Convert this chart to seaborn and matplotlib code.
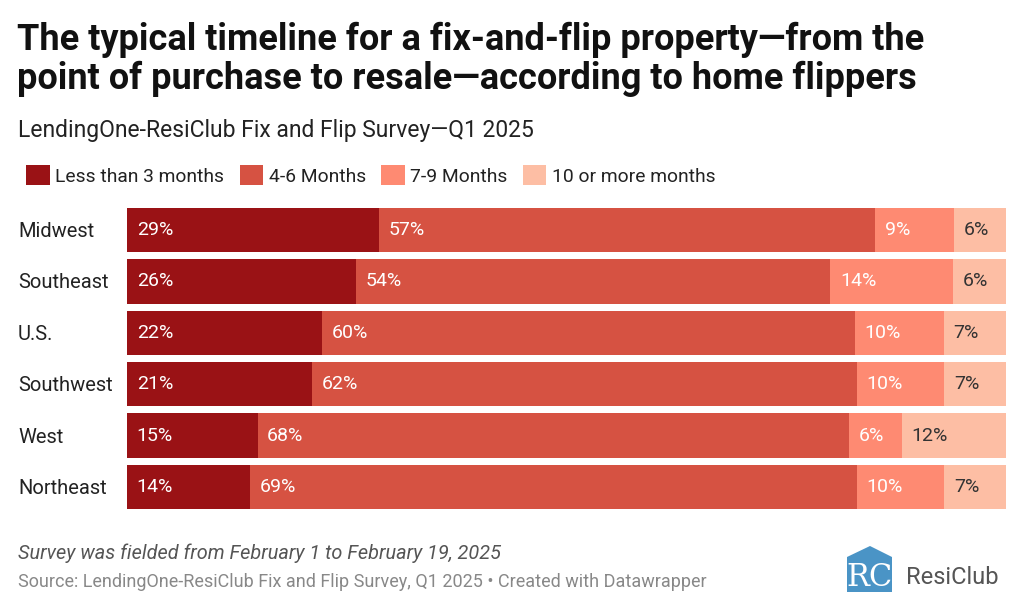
import numpy as np
import pandas as pd
import seaborn as sns
import matplotlib.pyplot as plt
from matplotlib.patches import Patch, Polygon
from matplotlib.transforms import blended_transform_factory

# Dados
regioes = ["Midwest", "Southeast", "U.S.", "Southwest", "West", "Northeast"]
menos_3 = [29, 26, 22, 21, 15, 14]
m4_6 = [57, 54, 60, 62, 68, 69]
m7_9 = [9, 14, 10, 10, 6, 10]
m10_mais = [6, 6, 7, 7, 12, 7]
categorias = ["Less than 3 months", "4-6 Months", "7-9 Months", "10 or more months"]
cores = ["#9a1215", "#d65242", "#fe8a72", "#fdbea4"]
cor_texto = ["white", "white", "white", "#333333"]

sns.set_theme(style="white")
plt.rcParams['font.family'] = ['Roboto', 'DejaVu Sans']

df = pd.DataFrame({"regiao": regioes, categorias[0]: menos_3, categorias[1]: m4_6,
                   categorias[2]: m7_9, categorias[3]: m10_mais})
vals = df[categorias].astype(float)
# normalizando para 100% (algumas linhas somam 101)
pct = vals.div(vals.sum(axis=1), axis=0) * 100
cum = pct.cumsum(axis=1)

fig = plt.figure(figsize=(10.24, 6.13), dpi=100)
ax = fig.add_axes([127 / 1024, 0.1638, (1006 - 127) / 1024, 0.6666 - 0.1638])

# barras empilhadas: desenha do total para o primeiro
for i in range(len(categorias) - 1, -1, -1):
    d = pd.DataFrame({"regiao": regioes, "v": cum.iloc[:, i].values})
    sns.barplot(data=d, x="v", y="regiao", color=cores[i], orient="h",
                width=0.86, saturation=1, ax=ax, linewidth=0)

# rótulos dos valores
for r in range(len(regioes)):
    for i in range(len(categorias)):
        inicio = 0 if i == 0 else cum.iloc[r, i - 1]
        ax.text(inicio + 1.1, r, f"{int(vals.iloc[r, i])}%", va="center", ha="left",
                color=cor_texto[i], fontsize=14)

ax.set_xlim(0, 100)
ax.set_ylim(len(regioes) - 0.5, -0.5)
ax.set_xlabel("")
ax.set_ylabel("")
ax.set_xticks([])
ax.set_yticks([])
sns.despine(ax=ax, left=True, bottom=True)

tr = blended_transform_factory(fig.transFigure, ax.transData)
for r, nome in enumerate(regioes):
    ax.text(18 / 1024, r + 0.03, nome, transform=tr, va="center", ha="left",
            fontsize=14.5, color="#222222")

# títulos
fig.text(17 / 1024, 1 - 22 / 613, "The typical timeline for a fix-and-flip property\u2014from the\n"
         "point of purchase to resale\u2014according to home flippers",
         fontsize=26, fontweight="bold", va="top", ha="left", color="#111111",
         linespacing=1.1)
fig.text(18 / 1024, 1 - 130 / 613, "LendingOne-ResiClub Fix and Flip Survey\u2014Q1 2025",
         fontsize=16.5, va="center", ha="left", color="#222222")

# legenda
handles = [Patch(facecolor=c, edgecolor="none") for c in cores]
fig.legend(handles, categorias, loc="upper left", bbox_to_anchor=(9 / 1024, 1 - 148 / 613),
           ncol=4, frameon=False, fontsize=13.9, handlelength=1.2, handleheight=1.2,
           handletextpad=0.3, columnspacing=0.8, labelcolor="#222222")

# notas de rodapé
fig.text(18 / 1024, 1 - 553 / 613, "Survey was fielded from February 1 to February 19, 2025",
         fontsize=14.3, style="italic", va="center", ha="left", color="#555555")
fig.text(18 / 1024, 1 - 582 / 613,
         "Source: LendingOne-ResiClub Fix and Flip Survey, Q1 2025 \u2022 Created with Datawrapper",
         fontsize=13, va="center", ha="left", color="#888888")

# logo ResiClub
casa = [(847, 557), (870, 546), (892, 557), (892, 592), (847, 592)]
casa = [(x / 1024, 1 - y / 613) for x, y in casa]
fig.patches.append(Polygon(casa, closed=True, transform=fig.transFigure,
                           facecolor="#4a94c6", edgecolor="none"))
fig.text(869 / 1024, 1 - 577 / 613, "RC", fontsize=22, color="white", family="DejaVu Serif",
         va="center", ha="center")
fig.text(906 / 1024, 1 - 577 / 613, "ResiClub", fontsize=17, color="#555555",
         va="center", ha="left")

plt.savefig("out.png", dpi=100)
